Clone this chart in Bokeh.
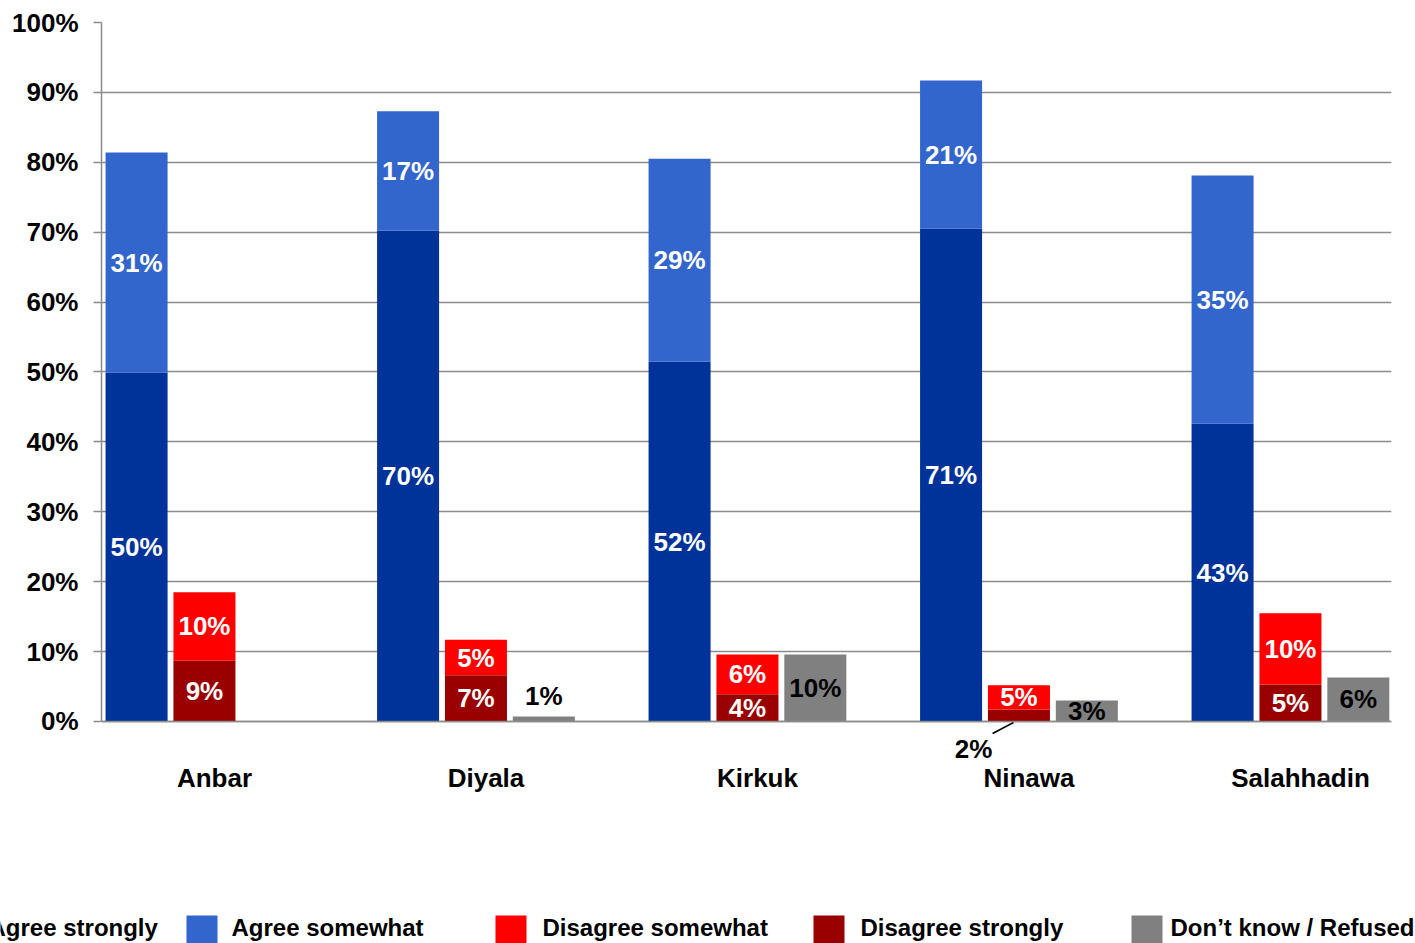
import numpy as np
from bokeh.plotting import figure
from bokeh.models import Range1d, FixedTicker, PrintfTickFormatter, Span, ColumnDataSource
from bokeh.embed import file_html
from bokeh.resources import INLINE
from bokeh.core.properties import value

# ---------------- data ----------------
regions = ["Anbar", "Diyala", "Kirkuk", "Ninawa", "Salahhadin"]
agree_strongly = [49.9, 70.2, 51.5, 70.5, 42.6]
agree_somewhat = [31.5, 17.1, 29.0, 21.2, 35.5]
disagree_strongly = [8.7, 6.6, 3.9, 1.7, 5.3]
disagree_somewhat = [9.8, 5.1, 5.7, 3.5, 10.2]
dont_know = [0.0, 0.7, 9.6, 3.0, 6.3]

lab_agree_strongly = ["50%", "70%", "52%", "71%", "43%"]
lab_agree_somewhat = ["31%", "17%", "29%", "21%", "35%"]
lab_disagree_strongly = ["9%", "7%", "4%", "2%", "5%"]
lab_disagree_somewhat = ["10%", "5%", "6%", "5%", "10%"]
lab_dont_know = ["", "1%", "10%", "3%", "6%"]

series_names = ["Agree strongly", "Agree somewhat", "Disagree somewhat",
                "Disagree strongly", "Don\u2019t know / Refused"]
colors = ["#003399", "#3366CC", "#FF0000", "#990000", "#808080"]
y_ticks = list(range(0, 101, 10))

FONT = "Liberation Sans"
GRID = "#8c8c8c"

# ---------------- layout constants ----------------
idx = np.arange(len(regions))
OFF_AGREE, OFF_DIS, OFF_DK = -0.287, -0.037, 0.213
BAR_W = 0.2284

as_ = np.array(agree_strongly)
aw = np.array(agree_somewhat)
ds = np.array(disagree_strongly)
dw = np.array(disagree_somewhat)
dk = np.array(dont_know)

p = figure(width=1415, height=888, output_backend="svg", toolbar_location=None,
           x_range=Range1d(-0.4162, 4.3352), y_range=Range1d(-5.866, 100),
           min_border_left=101, min_border_right=24, min_border_top=22,
           min_border_bottom=126)
p.outline_line_color = None
p.background_fill_color = "white"
p.border_fill_color = "white"

# grid
p.xgrid.grid_line_color = None
p.ygrid.ticker = FixedTicker(ticks=y_ticks)
p.ygrid.grid_line_color = GRID
p.ygrid.grid_line_width = 1.5

# y axis
p.yaxis.ticker = FixedTicker(ticks=y_ticks)
p.yaxis.formatter = PrintfTickFormatter(format="%d%%")
p.yaxis.bounds = (0, 100)
p.yaxis.axis_line_color = GRID
p.yaxis.axis_line_width = 1.5
p.yaxis.major_tick_line_color = GRID
p.yaxis.major_tick_line_width = 1.5
p.yaxis.major_tick_out = 8
p.yaxis.major_tick_in = 0
p.yaxis.minor_tick_line_color = None
p.yaxis.major_label_standoff = 15
p.yaxis.major_label_text_font = FONT
p.yaxis.major_label_text_font_style = "bold"
p.yaxis.major_label_text_font_size = "26px"
p.yaxis.major_label_text_color = "black"

# x axis (category labels)
p.xaxis.ticker = FixedTicker(ticks=list(idx))
p.xaxis.major_label_overrides = {int(i): r for i, r in zip(idx, regions)}
p.xaxis.axis_line_color = None
p.xaxis.major_tick_line_color = None
p.xaxis.minor_tick_line_color = None
p.xaxis.major_tick_out = 0
p.xaxis.major_tick_in = 0
p.xaxis.major_label_standoff = 0
p.xaxis.major_label_text_font = FONT
p.xaxis.major_label_text_font_style = "bold"
p.xaxis.major_label_text_font_size = "26px"
p.xaxis.major_label_text_color = "black"

# baseline at 0
p.add_layout(Span(location=0, dimension="width", line_color=GRID, line_width=1.5))

# bars
xa = idx + OFF_AGREE
xd = idx + OFF_DIS
xk = idx + OFF_DK
p.vbar(x=xa, bottom=0, top=as_, width=BAR_W, fill_color=colors[0], line_color=None)
p.vbar(x=xa, bottom=as_, top=as_ + aw, width=BAR_W, fill_color=colors[1], line_color=None)
p.vbar(x=xd, bottom=0, top=ds, width=BAR_W, fill_color=colors[3], line_color=None)
p.vbar(x=xd, bottom=ds, top=ds + dw, width=BAR_W, fill_color=colors[2], line_color=None)
p.vbar(x=xk, bottom=0, top=dk, width=BAR_W, fill_color=colors[4], line_color=None)

# labels
def add_labels(xs, ys, texts, color):
    src = ColumnDataSource(dict(x=list(xs), y=list(ys), t=list(texts)))
    p.text(x="x", y="y", text="t", source=src, text_align="center",
           text_baseline="middle", text_color=color, text_font=value(FONT),
           text_font_style="bold", text_font_size="26px")

add_labels(xa, as_ / 2, lab_agree_strongly, "white")
add_labels(xa, as_ + aw / 2, lab_agree_somewhat, "white")
add_labels(xd, ds + dw / 2, lab_disagree_somewhat, "white")

# disagree strongly: Ninawa's small segment gets an outside callout (black)
n = regions.index("Ninawa")
inside = [i for i in idx if i != n]
add_labels([xd[i] for i in inside], [ds[i] / 2 for i in inside],
           [lab_disagree_strongly[i] for i in inside], "white")
add_labels([n - 0.204], [-4.0], [lab_disagree_strongly[n]], "black")
p.segment(x0=[n - 0.134], y0=[-1.72], x1=[n - 0.057], y1=[-0.14],
          line_color="black", line_width=1.5)

# don't know labels: Diyala's tiny bar has label above
dk_y = list(dk / 2)
d = regions.index("Diyala")
dk_y[d] = dk[d] + 3.0
add_labels(xk, dk_y, lab_dont_know, "black")

# ---------------- legend ----------------
leg = figure(width=1415, height=55, output_backend="svg", toolbar_location=None,
             x_range=Range1d(0, 1415), y_range=Range1d(943, 888),
             min_border=0, min_border_left=0, min_border_right=0,
             min_border_top=0, min_border_bottom=0)
leg.axis.visible = False
leg.grid.visible = False
leg.outline_line_color = None
leg.background_fill_color = "white"
leg.border_fill_color = "white"

sw_left = [-58, 186, 495, 813, 1131]
text_left = [-12, 231, 542, 860, 1170]
SW = 31
leg.quad(left=sw_left, right=[s + SW for s in sw_left], top=[915] * 5, bottom=[946] * 5,
         fill_color=colors, line_color=None)
leg.text(x=text_left, y=[927] * 5, text=series_names,
         text_align="left", text_baseline="middle", text_color="black",
         text_font=value(FONT), text_font_style="bold", text_font_size="24px")

open("out.html", "w").write(file_html([p, leg], INLINE))
